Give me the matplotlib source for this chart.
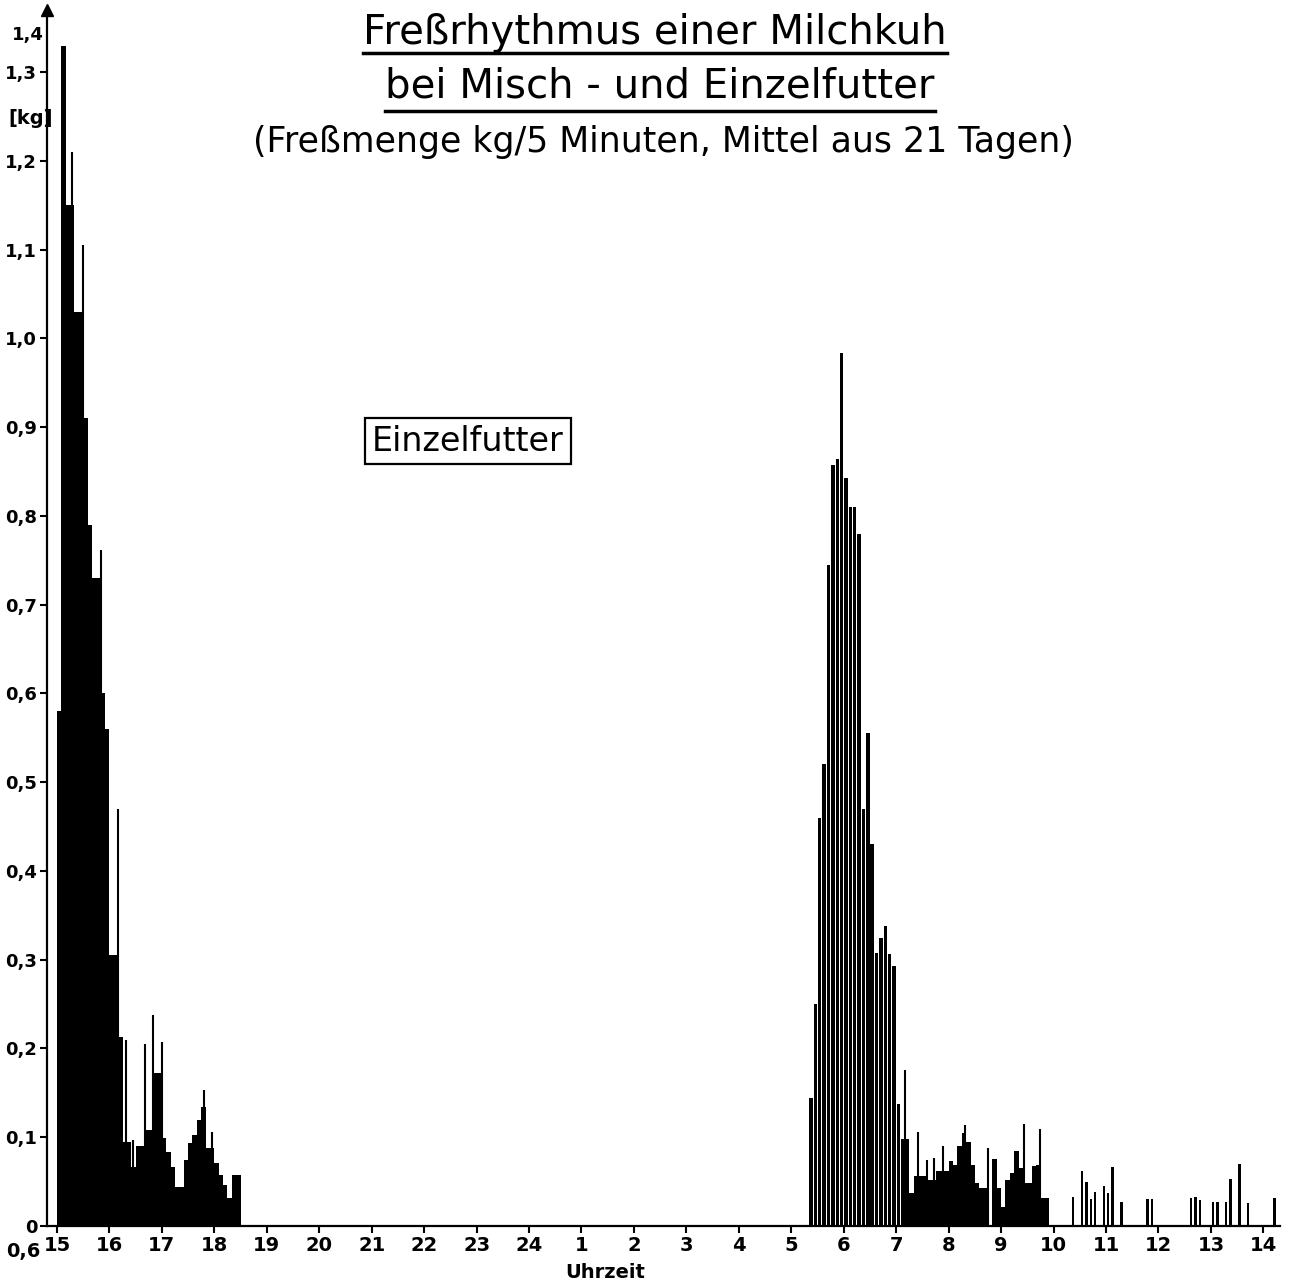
import numpy as np
import matplotlib
matplotlib.use('Agg')
import matplotlib.pyplot as plt
from matplotlib.lines import Line2D

# Fressmenge in kg je 5-Minuten-Intervall, Zeitachse beginnt 15:00
kg_nachmittag = [0.58, 1.33, 1.15, 1.15, 1.03, 1.03, 0.91, 0.79, 0.73, 0.73,
                 0.60, 0.56, 0.305, 0.305, 0.213, 0.095, 0.095, 0.067, 0.09, 0.09,
                 0.108, 0.108, 0.172, 0.172, 0.099, 0.083, 0.067, 0.044, 0.044, 0.074,
                 0.093, 0.102, 0.119, 0.134, 0.088, 0.088, 0.071, 0.057, 0.046, 0.031,
                 0.057, 0.057]                     # 15:00 - 18:30
start_morgen = 172                                 # Intervall 05:20
kg_morgen = [0.144, 0.25, 0.46, 0.52, 0.745, 0.857, 0.864, 0.983, 0.843, 0.81,
             0.81, 0.78, 0.47, 0.555, 0.43, 0.308, 0.325, 0.338, 0.307, 0.293,
             0.138, 0.098, 0.098, 0.037, 0.056, 0.056, 0.056, 0.052, 0.052, 0.062,
             0.062, 0.062, 0.073, 0.069, 0.09, 0.105, 0.095, 0.069, 0.048, 0.043,
             0.043, 0.0, 0.075, 0.043, 0.021, 0.052, 0.06, 0.085, 0.065, 0.048,
             0.048, 0.068, 0.069, 0.031, 0.031, 0.0]  # 05:20 - 10:00
# einzelne Intervalle nach 10 Uhr
spaet_bin = [232, 234, 235, 236, 237, 239, 240, 241, 243, 249, 250,
             259, 260, 261, 264, 265, 267, 268, 270, 272, 278]
spaet_kg = [0.033, 0.062, 0.05, 0.03, 0.038, 0.045, 0.037, 0.067, 0.027, 0.03, 0.03,
            0.031, 0.033, 0.029, 0.027, 0.027, 0.027, 0.053, 0.07, 0.026, 0.031]
# Spitzenwerte innerhalb der Intervalle (Minuten nach 15:00)
spitze_min = [17, 30, 50, 70, 79, 87, 101, 110, 120, 168, 177,
              970, 985, 995, 1003, 1014, 1039, 1065, 1106, 1125]
spitze_kg = [1.21, 1.105, 0.762, 0.47, 0.21, 0.097, 0.205, 0.238, 0.207, 0.153, 0.106,
             0.176, 0.106, 0.074, 0.077, 0.09, 0.114, 0.088, 0.115, 0.109]

stunden = [15, 16, 17, 18, 19, 20, 21, 22, 23, 24, 1, 2, 3, 4, 5, 6, 7, 8, 9, 10, 11, 12, 13, 14]
y_ticks = [0, 0.1, 0.2, 0.3, 0.4, 0.5, 0.6, 0.7, 0.8, 0.9, 1.0, 1.1, 1.2, 1.3]

n_bins = 279
kg = np.zeros(n_bins)
kg[:len(kg_nachmittag)] = kg_nachmittag
kg[start_morgen:start_morgen + len(kg_morgen)] = kg_morgen
kg[spaet_bin] = spaet_kg

t = np.arange(n_bins) * 5 + 2.5
# Hauptfresszeit am Morgen und Einzelwerte schmaler gezeichnet
width = np.where((t > 5 * start_morgen) & (t < 5 * 194), 3.9,
                 np.where(t > 5 * 228, 2.8, 5.0))

plt.rcParams['font.family'] = ['DejaVu Sans']
fig = plt.figure(figsize=(12.96, 12.83), dpi=100)
ax = fig.add_axes([47 / 1296, 57 / 1283, 1233 / 1296, 1216 / 1283])

ax.bar(t, kg, width=width, color='black', linewidth=0)
ax.vlines(spitze_min, 0, spitze_kg, color='black', linewidth=1.5)

ax.set_xlim(-11.4, 1399)
ax.set_ylim(0, 1.37)
for s in ['top', 'right']:
    ax.spines[s].set_visible(False)
for s in ['left', 'bottom']:
    ax.spines[s].set_linewidth(1.6)

ax.set_xticks(np.arange(len(stunden)) * 60)
ax.set_xticklabels([str(h) for h in stunden], fontsize=14, fontweight='bold')
ax.set_yticks(y_ticks)
ax.set_yticklabels(['0'] + [('%.1f' % v).replace('.', ',') for v in y_ticks[1:]],
                   fontsize=13, fontweight='bold')
ax.tick_params(axis='both', direction='out', length=5, width=1.5, pad=2)

# Pfeil am Ende der y-Achse
ax.plot([0], [1.0], marker='^', color='black', markersize=8,
        transform=ax.transAxes, clip_on=False)
fig.text(12 / 1296, 1 - 35 / 1283, '1,4', fontsize=13, fontweight='bold', va='center')
fig.text(8 / 1296, 1 - 118 / 1283, '[kg]', fontsize=14, fontweight='bold', va='center')
fig.text(6 / 1296, 1 - 1252 / 1283, '0,6', fontsize=14, fontweight='bold', va='center')
fig.text(605 / 1296, 1 - 1273 / 1283, 'Uhrzeit', fontsize=14, fontweight='bold',
         ha='center', va='center')

t1 = fig.text(655 / 1296, 1 - 33 / 1283, 'Freßrhythmus einer Milchkuh', fontsize=29,
              ha='center', va='center')
t2 = fig.text(660 / 1296, 1 - 87 / 1283, 'bei Misch - und Einzelfutter', fontsize=29,
              ha='center', va='center')
fig.text(663 / 1296, 1 - 142 / 1283, '(Freßmenge kg/5 Minuten, Mittel aus 21 Tagen)',
         fontsize=25, ha='center', va='center')
fig.text(468 / 1296, 1 - 441 / 1283, 'Einzelfutter', fontsize=24, ha='center', va='center',
         bbox=dict(boxstyle='square,pad=0.2', facecolor='white', edgecolor='black', linewidth=1.6))

# Titel unterstreichen
fig.canvas.draw()
r = fig.canvas.get_renderer()
for txt, y_px in [(t1, 53), (t2, 111)]:
    bb = txt.get_window_extent(r)
    y = 1 - y_px / 1283
    fig.add_artist(Line2D([bb.x0 / fig.bbox.width, bb.x1 / fig.bbox.width], [y, y],
                          color='black', linewidth=2.5, transform=fig.transFigure))

fig.savefig('out.png', dpi=100)
